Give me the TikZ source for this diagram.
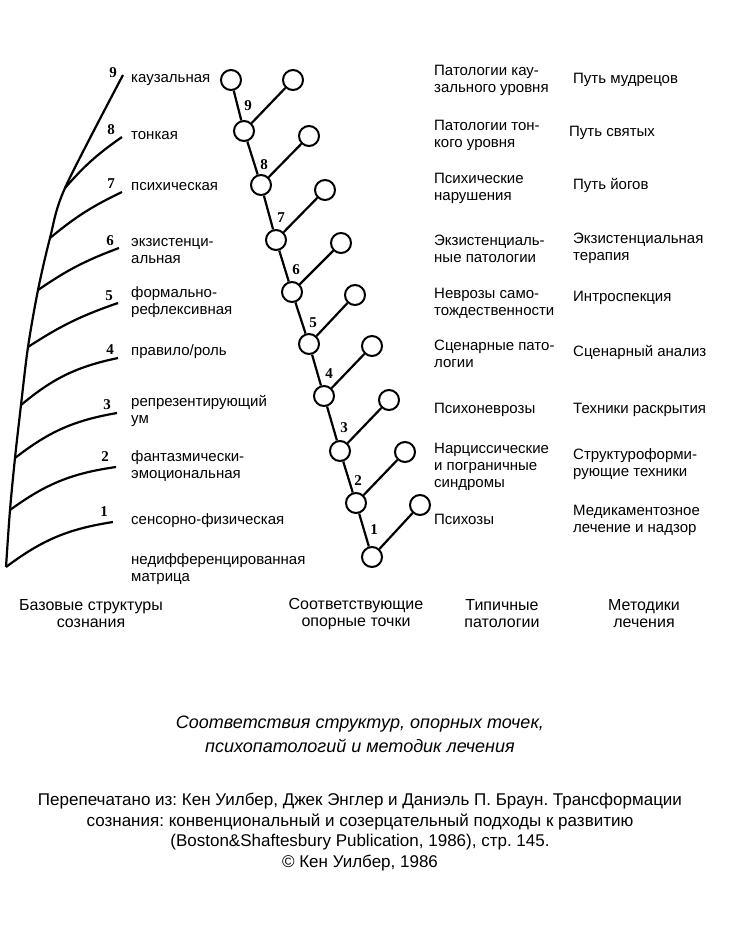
\documentclass[tikz,border=0pt]{standalone}
\usepackage{fontspec}
\setmainfont{Liberation Sans}
\newfontfamily\numfont{Liberation Serif}
\frenchspacing
\usetikzlibrary{positioning}
\tikzset{%
	level label/.style={
		anchor=west,
		align=left,
		inner sep=0pt,
		font=\fontsize{15}{17}\selectfont
	},
	column head/.style={
		align=center,
		inner sep=0pt,
		font=\fontsize{16}{17}\selectfont
	},
	level number/.style={
		inner sep=0pt,
		font=\numfont\bfseries\fontsize{15}{15}\selectfont
	},
	support point/.style={
		circle,
		draw,
		fill=white,
		line width=2pt,
		minimum size=20pt,
		inner sep=0pt
	},
	stroke/.style={
		line width=2.2pt
	},
}

\begin{document}
\begin{tikzpicture}[x=1pt,y=-1pt]
			\useasboundingbox (0,0) rectangle (729,937);
			
			% Trunk of the basic structures
			\coordinate (t1) at (6,567);
			\coordinate (t2) at (10,510);
			\coordinate (t3) at (15,458);
			\coordinate (t4) at (21,405);
			\coordinate (t5) at (28,347);
			\coordinate (t6) at (38,290);
			\coordinate (t7) at (50,238);
			\coordinate (t8) at (65,188);
			\coordinate (t9) at (123,75);
			\draw[stroke] plot[smooth] coordinates {(t1) (t2) (t3) (t4) (t5) (t6) (t7) (t8) (t9)};
			
			% Branch ends
			\coordinate (e1) at (113,522);
			\coordinate (e2) at (116,467);
			\coordinate (e3) at (117,413);
			\coordinate (e4) at (118,358);
			\coordinate (e5) at (118,303);
			\coordinate (e6) at (119,248);
			\coordinate (e7) at (122,192);
			\coordinate (e8) at (122,137);
			\foreach \i in {1,...,4}
				\draw[stroke] (t\i) to[bend left=14] (e\i);
			\foreach \i in {5,...,8}
				\draw[stroke] (t\i) to[bend left=7] (e\i);
			
			% Numbers of the levels
			\node[level number] (n9) at (113,73) {9};
			\node[level number] (n8) at (111,130) {8};
			\node[level number] (n7) at (111,184) {7};
			\node[level number] (n6) at (110,241) {6};
			\node[level number] (n5) at (109,296) {5};
			\node[level number] (n4) at (110,350) {4};
			\node[level number] (n3) at (107,405) {3};
			\node[level number] (n2) at (105,457) {2};
			\node[level number] (n1) at (104,512) {1};
			
			% Names of the basic structures
			\node[level label] (s9) at (131,80) {каузальная};
			\node[level label] (s8) at (131,136) {тонкая};
			\node[level label] (s7) at (131,187) {психическая};
			\node[level label] (s6) at (131,251) {экзистенци-\\альная};
			\node[level label] (s5) at (131,302) {формально-\\рефлексивная};
			\node[level label] (s4) at (131,352) {правило/роль};
			\node[level label] (s3) at (131,411) {репрезентирующий\\ум};
			\node[level label] (s2) at (131,466) {фантазмически-\\эмоциональная};
			\node[level label] (s1) at (131,521) {сенсорно-физическая};
			\node[level label] (s0) at (131,569) {недифференцированная\\матрица};
			
			% Chain of support points
			\node[support point] (top) at (231,80) {};
			\foreach \i/\x/\y/\u/\v in {1/372/557/420/505, 2/356/503/405/452, 3/340/451/389/400,
				4/324/396/372/346, 5/309/344/355/295, 6/292/292/341/243,
				7/276/240/325/190, 8/261/185/309/136, 9/244/131/293/80}{
				\node[support point] (p\i) at (\x,\y) {};
				\node[support point] (q\i) at (\u,\v) {};
			}
			\draw[stroke] (p1) -- (p2) -- (p3) -- (p4) -- (p5) -- (p6) -- (p7) -- (p8) -- (p9) -- (top);
			\foreach \i in {1,...,9}
				\draw[stroke] (p\i) -- (q\i);
			
			% Numbers of the support points
			\node[level number] (m9) at (248,106) {9};
			\node[level number] (m8) at (264,165) {8};
			\node[level number] (m7) at (281,218) {7};
			\node[level number] (m6) at (296,270) {6};
			\node[level number] (m5) at (313,323) {5};
			\node[level number] (m4) at (329,374) {4};
			\node[level number] (m3) at (344,428) {3};
			\node[level number] (m2) at (358,481) {2};
			\node[level number] (m1) at (374,530) {1};
			
			% Typical pathologies
			\node[level label] (d9) at (434,80) {Патологии кау-\\зального уровня};
			\node[level label] (d8) at (434,135) {Патологии тон-\\кого уровня};
			\node[level label] (d7) at (434,188) {Психические\\нарушения};
			\node[level label] (d6) at (434,249) {Экзистенциаль-\\ные патологии};
			\node[level label] (d5) at (434,303) {Неврозы само-\\тождественности};
			\node[level label] (d4) at (434,354) {Сценарные пато-\\логии};
			\node[level label] (d3) at (434,410) {Психоневрозы};
			\node[level label] (d2) at (434,467) {Нарциссические\\и пограничные\\синдромы};
			\node[level label] (d1) at (434,519) {Психозы};
			
			% Treatment methods
			\node[level label] (r9) at (573,80) {Путь мудрецов};
			\node[level label] (r8) at (569,133) {Путь святых};
			\node[level label] (r7) at (573,185) {Путь йогов};
			\node[level label] (r6) at (573,248) {Экзистенциальная\\терапия};
			\node[level label] (r5) at (573,298) {Интроспекция};
			\node[level label] (r4) at (573,352) {Сценарный анализ};
			\node[level label] (r3) at (573,410) {Техники раскрытия};
			\node[level label] (r2) at (573,464) {Структуроформи-\\рующие техники};
			\node[level label] (r1) at (573,520) {Медикаментозное\\лечение и надзор};
			
			% Column heads
			\node[column head] (h1) at (91,614) {Базовые структуры\\сознания};
			\node[column head] (h2) at (356,614) {Соответствующие\\опорные точки};
			\node[column head] (h3) at (502,614) {Типичные\\патологии};
			\node[column head] (h4) at (644,614) {Методики\\лечения};
			
			% Caption and source
			\node[align=center, font=\itshape\fontsize{18}{24}\selectfont] (caption) at (360,734)
				{Соответствия структур, опорных точек,\\психопатологий и методик лечения};
			\node[align=center, font=\fontsize{17}{20.4}\selectfont] (source) at (360,832)
				{Перепечатано из: Кен Уилбер, Джек Энглер и Даниэль П. Браун. Трансформации\\
				сознания: конвенциональный и созерцательный подходы к развитию\\
				(Boston\&Shaftesbury Publication, 1986), стр. 145.\\
				© Кен Уилбер, 1986};
\end{tikzpicture}
\end{document}
